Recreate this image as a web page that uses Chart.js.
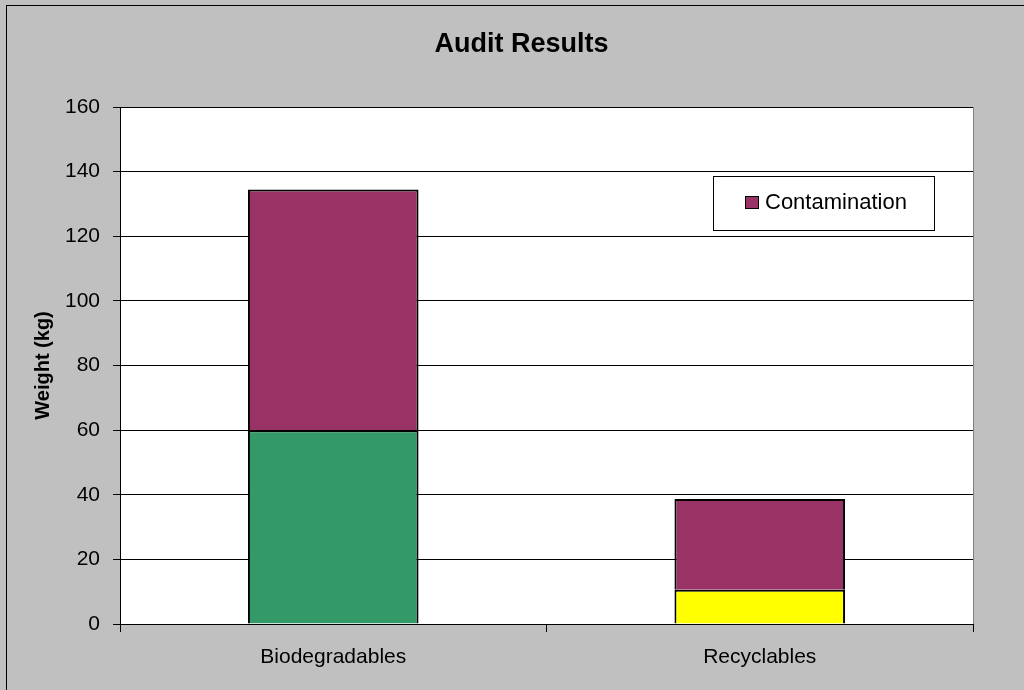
<!DOCTYPE html>
<html>
<head>
<meta charset="utf-8">
<script src="https://cdn.jsdelivr.net/npm/chart.js@4.4.0/dist/chart.umd.min.js"></script>
<style>
  html, body { margin: 0; padding: 0; background: #C0C0C0; }
  #wrap { width: 1024px; height: 690px; }
</style>
</head>
<body>
<div id="wrap"><canvas id="grafico" width="1024" height="690"></canvas></div>
<script>
// dados do grafico
const categorias = ['Biodegradables', 'Recyclables'];
const biodegradaveis = [60, null];
const reciclaveis = [null, 10.6];
const contaminacao = [74.5, 28.1];
const ticksY = [0, 20, 40, 60, 80, 100, 120, 140, 160];

const fonte = '"Liberation Sans", Arial, sans-serif';

// fundo cinza, moldura e area branca
const fundoPlugin = {
    id: 'fundo',
    beforeDraw(chart) {
        const ctx = chart.ctx;
        const a = chart.chartArea;
        ctx.save();
        ctx.fillStyle = '#C0C0C0';
        ctx.fillRect(0, 0, chart.width, chart.height);
        ctx.strokeStyle = '#000000';
        ctx.lineWidth = 1;
        ctx.strokeRect(6.5, 5.5, chart.width + 10, chart.height + 10);
        ctx.fillStyle = '#FFFFFF';
        ctx.fillRect(a.left, a.top, a.right - a.left, a.bottom - a.top);
        // borda superior e direita cinza
        ctx.strokeStyle = '#808080';
        ctx.beginPath();
        ctx.moveTo(a.left, a.top + 0.5);
        ctx.lineTo(a.right + 0.5, a.top + 0.5);
        ctx.lineTo(a.right + 0.5, a.bottom);
        ctx.stroke();
        ctx.restore();
    }
};

// legenda dentro da area do grafico, so com Contamination
const legendaPlugin = {
    id: 'legendaCaixa',
    afterDraw(chart) {
        const ctx = chart.ctx;
        const ds = chart.data.datasets[2];
        const x = 713, y = 176, w = 221, h = 54;
        ctx.save();
        ctx.fillStyle = '#FFFFFF';
        ctx.fillRect(x, y, w, h);
        ctx.strokeStyle = '#000000';
        ctx.lineWidth = 1;
        ctx.strokeRect(x + 0.5, y + 0.5, w, h);
        ctx.fillStyle = ds.backgroundColor;
        ctx.fillRect(745.5, 196.5, 13, 12);
        ctx.strokeRect(745.5, 196.5, 13, 12);
        ctx.fillStyle = '#000000';
        ctx.font = '22px ' + fonte;
        ctx.textBaseline = 'middle';
        ctx.fillText(ds.label, 765, 203);
        ctx.restore();
    }
};

const ctx = document.getElementById('grafico').getContext('2d');

new Chart(ctx, {
    type: 'bar',
    data: {
        labels: categorias,
        datasets: [{
            label: 'Biodegradables',
            data: biodegradaveis,
            backgroundColor: '#339966',
            borderColor: '#000000',
            borderWidth: 2
        }, {
            label: 'Recyclables',
            data: reciclaveis,
            backgroundColor: '#FFFF00',
            borderColor: '#000000',
            borderWidth: 2
        }, {
            label: 'Contamination',
            data: contaminacao,
            backgroundColor: '#993366',
            borderColor: '#000000',
            borderWidth: 2
        }]
    },
    options: {
        responsive: false,
        animation: false,
        layout: { padding: { left: 19, right: 0, top: 0, bottom: 10 } },
        datasets: {
            bar: { categoryPercentage: 1, barPercentage: 0.4, skipNull: true }
        },
        plugins: {
            legend: { display: false },
            tooltip: { enabled: false },
            title: {
                display: true,
                text: 'Audit Results',
                color: '#000000',
                font: { family: fonte, size: 27, weight: 'bold' },
                padding: { top: 28, bottom: 46.6 }
            }
        },
        scales: {
            x: {
                stacked: true,
                offset: true,
                afterFit(scale) { scale.height = 56; },
                grid: {
                    offset: true,
                    drawOnChartArea: false,
                    drawTicks: true,
                    tickLength: 8,
                    color: '#000000'
                },
                border: { color: '#000000', width: 1 },
                ticks: {
                    color: '#000000',
                    padding: 13,
                    font: { family: fonte, size: 21 }
                }
            },
            y: {
                stacked: true,
                min: 0,
                max: 160,
                afterFit(scale) { scale.width = 101; },
                afterBuildTicks(scale) {
                    scale.ticks = ticksY.map(v => ({ value: v }));
                },
                grid: {
                    color: '#000000',
                    lineWidth: 1,
                    tickLength: 7
                },
                border: { color: '#000000', width: 1 },
                ticks: {
                    color: '#000000',
                    padding: 13,
                    font: { family: fonte, size: 21 }
                },
                title: {
                    display: true,
                    text: 'Weight (kg)',
                    color: '#000000',
                    font: { family: fonte, size: 20, weight: 'bold' },
                    padding: { top: 12, bottom: 0 }
                }
            },
            // eixo vazio so para dar a margem da direita
            margem: {
                type: 'linear',
                position: 'right',
                display: true,
                afterFit(scale) { scale.width = 51; },
                grid: { display: false },
                border: { display: false },
                ticks: { display: false }
            }
        }
    },
    plugins: [fundoPlugin, legendaPlugin]
});
</script>
</body>
</html>
